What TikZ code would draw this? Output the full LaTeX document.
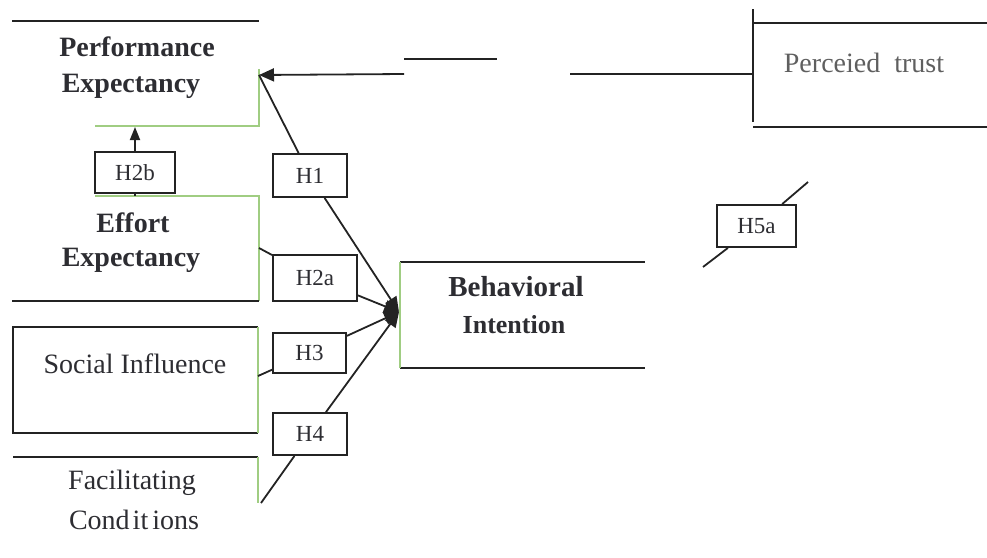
\documentclass[tikz,border=0pt]{standalone}
\usepackage{fontspec}
\setmainfont{Liberation Serif}
\usetikzlibrary{arrows.meta}
\definecolor{linec}{RGB}{35,35,35}
\definecolor{greenc}{RGB}{160,205,130}
\definecolor{titlec}{RGB}{45,45,50}
\definecolor{grayt}{RGB}{95,95,95}
\tikzset{
  blk/.style={draw=linec, line width=1.8pt},
  grn/.style={draw=greenc, line width=1.8pt},
  hbox/.style={draw=linec, line width=1.8pt, fill=white, inner sep=0pt, font=\fontsize{23}{25}\selectfont, text=titlec},
  ttl/.style={font=\fontsize{28}{30}\selectfont\bfseries, text=titlec, inner sep=0pt},
  reg/.style={font=\fontsize{28}{30}\selectfont, text=titlec, inner sep=0pt},
  tip/.style={-{Triangle[length=15pt,width=13pt]}},
}
\begin{document}
\begin{tikzpicture}[x=1pt,y=-1pt]
\useasboundingbox (0,0) rectangle (987,557);
% Performance Expectancy
\draw[blk] (12,21) -- (259,21);
\node[ttl] (pe1) at (137,47) {Performance};
\node[ttl] (pe2) at (131,86) {Expectancy};
\draw[grn] (95,126) -- (259,126) -- (259,69);
\coordinate (pecorner) at (259,75);
% Perceived trust
\draw[blk] (753,9) -- (753,122);
\draw[blk] (753,23) -- (987,23);
\draw[blk] (753,127) -- (987,127);
\node[reg, text=grayt] (pt) at (864,63) {Perceied\ \ trust};
\coordinate (ptleft) at (753,74);
\coordinate (ptmid) at (570,74);
\coordinate (arrstart) at (404,74);
\draw[blk] (ptmid) -- (ptleft);
\draw[blk] (404,59) -- (497,59);
\draw[blk, tip] (arrstart) -- (pecorner);
% Effort Expectancy
\draw[grn] (95,196) -- (259,196) -- (259,301);
\draw[blk] (12,301) -- (259,301);
\node[ttl] (ee1) at (133,223) {Effort};
\node[ttl] (ee2) at (131,260) {Expectancy};
\coordinate (eeout) at (259,248);
% Social Influence
\draw[blk] (258,327) -- (13,327) -- (13,433) -- (258,433);
\draw[grn] (258,327) -- (258,433);
\node[reg] (si) at (135,364) {Social Influence};
\coordinate (siout) at (258,376);
% Facilitating Conditions
\draw[blk] (13,457) -- (258,457);
\draw[grn] (258,457) -- (258,503);
\node[reg] (fc1) at (132,483) {Facilitating};
\node[reg] (fc2) at (134,520) {Cond\kern3pt it\kern4pt ions};
\coordinate (fcout) at (261,503);
% Behavioral Intention
\draw[blk] (400,262) -- (645,262);
\draw[blk] (400,368) -- (645,368);
\draw[grn] (400,262) -- (400,368);
\node[ttl, font=\fontsize{29}{31}\selectfont\bfseries] (bi1) at (516,287) {Behavioral};
\node[ttl, font=\fontsize{26}{28}\selectfont\bfseries] (bi2) at (514,325) {Intention};
\coordinate (biin) at (399,312);
% hypothesis boxes
\node[hbox, minimum width=80pt, minimum height=41pt] (h2b) at (135,172.5) {H2b};
\node[hbox, minimum width=74pt, minimum height=43pt] (h1) at (310,175.5) {H1};
\node[hbox, minimum width=84pt, minimum height=46pt] (h2a) at (315,278) {H2a};
\node[hbox, minimum width=73pt, minimum height=40pt] (h3) at (309.5,353) {H3};
\node[hbox, minimum width=74pt, minimum height=42pt] (h4) at (310,434) {H4};
\node[hbox, minimum width=79pt, minimum height=42pt] (h5a) at (756.5,226) {H5a};
% connectors
\coordinate (h2btop) at (135,127);
\coordinate (h2bbot) at (135,196);
\draw[blk, -{Triangle[length=13pt,width=10pt]}] (h2b.north) -- (h2btop);
\draw[blk] (h2b.south) -- (h2bbot);
\draw[blk] (pecorner) -- (h1);
\draw[blk, tip] (h1) -- (biin);
\draw[blk] (eeout) -- (h2a);
\draw[blk, tip] (h2a) -- (biin);
\draw[blk] (siout) -- (h3);
\draw[blk, tip] (h3) -- (biin);
\draw[blk] (fcout) -- (h4);
\draw[blk, tip] (h4) -- (biin);
\coordinate (h5aa) at (808,182);
\coordinate (h5ab) at (703,267);
\draw[blk] (h5aa) -- (h5a);
\draw[blk] (h5ab) -- (h5a);
\end{tikzpicture}
\end{document}
